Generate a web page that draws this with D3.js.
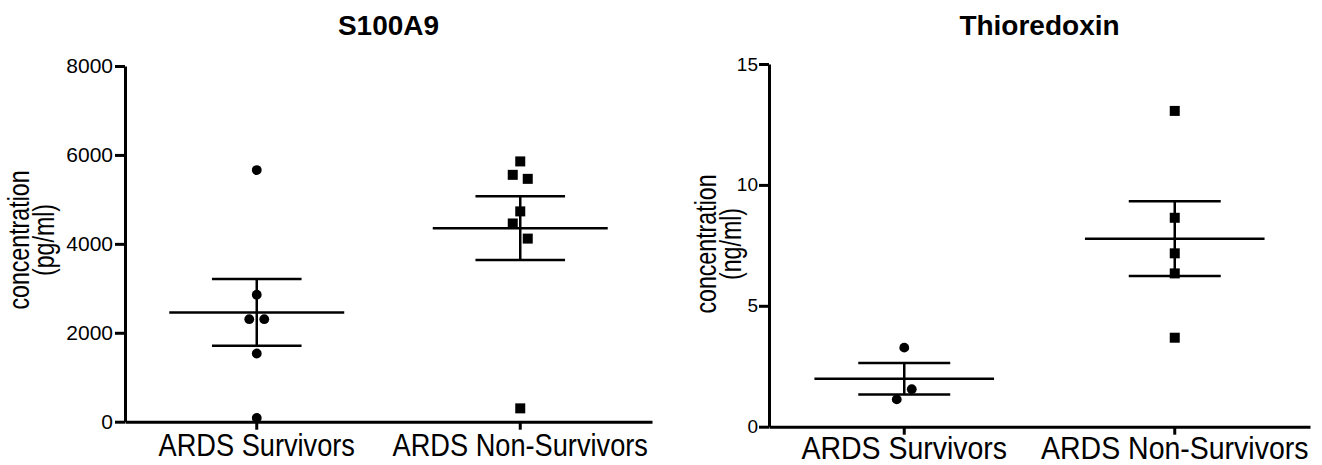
<!DOCTYPE html>
<html>
<head>
<meta charset="utf-8">
<script src="https://cdn.jsdelivr.net/npm/d3@7"></script>
<style>
  body { margin: 0; background: #fff; }
  svg { display: block; font-family: "Liberation Sans", Arial, sans-serif; }
</style>
</head>
<body>
<svg width="1322" height="465"></svg>
<script>
// values
var categories = ["ARDS Survivors", "ARDS Non-Survivors"];

var s100a9Survivors = [5659, 2856, 2305, 2305, 1534, 84];
var s100a9NonSurvivors = [5854, 5552, 5462, 4730, 4458, 4118, 300];
var s100a9Ticks = [0, 2000, 4000, 6000, 8000];

var trxSurvivors = [3.27, 1.55, 1.13];
var trxNonSurvivors = [13.06, 8.64, 7.17, 6.34, 3.68];
var trxTicks = [0, 5, 10, 15];

var svg = d3.select('svg');

// spread points that sit close together, like a column scatter
function jitter(values, y) {
    var sorted = values.map(function (v, i) { return { v: v, i: i }; })
        .sort(function (a, b) { return b.v - a.v; });
    var rows = [];
    var cur = [];
    sorted.forEach(function (p, k) {
        if (k > 0 && Math.abs(y(p.v) - y(sorted[k - 1].v)) >= 17) {
            rows.push(cur);
            cur = [];
        }
        cur.push(p);
    });
    rows.push(cur);
    var out = [];
    rows.forEach(function (row) {
        var n = row.length;
        var lanes;
        if (n == 1) lanes = [0];
        else if (n == 2) lanes = [1, -1];
        else if (n == 3) lanes = [0, -1, 1];
        else lanes = row.map(function (d, j) { return j - (n - 1) / 2; });
        row.forEach(function (p, j) {
            out.push({ v: p.v, lane: lanes[j] });
        });
    });
    return out;
}

function panel(cfg) {
    var g = svg.append('g');

    var x = d3.scaleBand().domain(categories).range([cfg.left, cfg.right]).padding(0);
    var y = d3.scaleLinear().domain([0, cfg.yMax]).range([cfg.bottom, cfg.top]);
    var bw = x.bandwidth();

    // title
    g.append('text')
        .attr('x', (cfg.left + cfg.right) / 2)
        .attr('y', 35)
        .attr('text-anchor', 'middle')
        .attr('font-size', 28)
        .attr('font-weight', 'bold')
        .text(cfg.title);

    // y axis
    var ya = g.append('g')
        .attr('transform', 'translate(' + cfg.left + ',0)')
        .call(d3.axisLeft(y).tickValues(cfg.ticks).tickFormat(d3.format('d'))
            .tickSize(10).tickSizeOuter(0).tickPadding(cfg.tickPad));
    ya.selectAll('text').attr('font-size', cfg.tickFont).attr('fill', '#000')
        .attr('font-family', '"Liberation Sans", Arial, sans-serif');

    // x axis
    var xa = g.append('g')
        .attr('transform', 'translate(0,' + cfg.bottom + ')')
        .call(d3.axisBottom(x).tickSize(8).tickSizeOuter(0).tickPadding(cfg.catPad));
    xa.selectAll('text').attr('font-size', 32).attr('fill', '#000')
        .attr('transform', 'scale(' + cfg.catScale + ',1)')
        .attr('font-family', '"Liberation Sans", Arial, sans-serif');

    [ya, xa].forEach(function (a) {
        a.selectAll('path, line').attr('stroke', '#000').attr('stroke-width', 3);
    });

    // y axis title
    var yt = g.append('text')
        .attr('transform', 'translate(' + cfg.labelX + ',' + cfg.labelY + ') rotate(-90) scale(0.8,1)')
        .attr('text-anchor', 'middle')
        .attr('font-size', 29);
    yt.append('tspan').attr('x', 0).attr('y', 0).text('concentration');
    yt.append('tspan').attr('x', 0).attr('y', cfg.labelGap).text(cfg.unit);

    cfg.groups.forEach(function (vals, gi) {
        var cat = categories[gi];
        var cx = x(cat) + bw / 2;
        var m = d3.mean(vals);
        var sem = d3.deviation(vals) / Math.sqrt(vals.length);

        // mean and SEM bars
        g.append('line')
            .attr('x1', cx - bw * 0.332).attr('x2', cx + bw * 0.332)
            .attr('y1', y(m)).attr('y2', y(m))
            .attr('stroke', '#000').attr('stroke-width', 2.5);
        g.append('line')
            .attr('x1', cx).attr('x2', cx)
            .attr('y1', y(m + sem)).attr('y2', y(m - sem))
            .attr('stroke', '#000').attr('stroke-width', 2.5);
        [m + sem, m - sem].forEach(function (v) {
            g.append('line')
                .attr('x1', cx - bw * 0.17).attr('x2', cx + bw * 0.17)
                .attr('y1', y(v)).attr('y2', y(v))
                .attr('stroke', '#000').attr('stroke-width', 2.5);
        });

        var pts = jitter(vals, y);
        if (gi == 0) {
            g.selectAll('circle.g' + gi).data(pts).enter().append('circle')
                .attr('cx', function (d) { return cx + d.lane * 7.5; })
                .attr('cy', function (d) { return y(d.v); })
                .attr('r', 4.9)
                .attr('fill', '#000');
        } else {
            g.selectAll('rect.g' + gi).data(pts).enter().append('rect')
                .attr('x', function (d) { return cx + d.lane * 7.5 - 5; })
                .attr('y', function (d) { return y(d.v) - 5; })
                .attr('width', 10).attr('height', 10)
                .attr('fill', '#000');
        }
    });
}

panel({
    title: 'S100A9', unit: '(pg/ml)',
    left: 125, right: 652, top: 66, bottom: 421.7,
    yMax: 8000, ticks: s100a9Ticks, tickFont: 21, tickPad: 2, catScale: 0.85, catPad: 4,
    labelX: 29, labelY: 240, labelGap: 25,
    groups: [s100a9Survivors, s100a9NonSurvivors]
});

panel({
    title: 'Thioredoxin', unit: '(ng/ml)',
    left: 769, right: 1310, top: 64, bottom: 426.7,
    yMax: 15, ticks: trxTicks, tickFont: 19, tickPad: 1, catScale: 0.89, catPad: 2,
    labelX: 716, labelY: 244, labelGap: 25,
    groups: [trxSurvivors, trxNonSurvivors]
});
</script>
</body>
</html>
